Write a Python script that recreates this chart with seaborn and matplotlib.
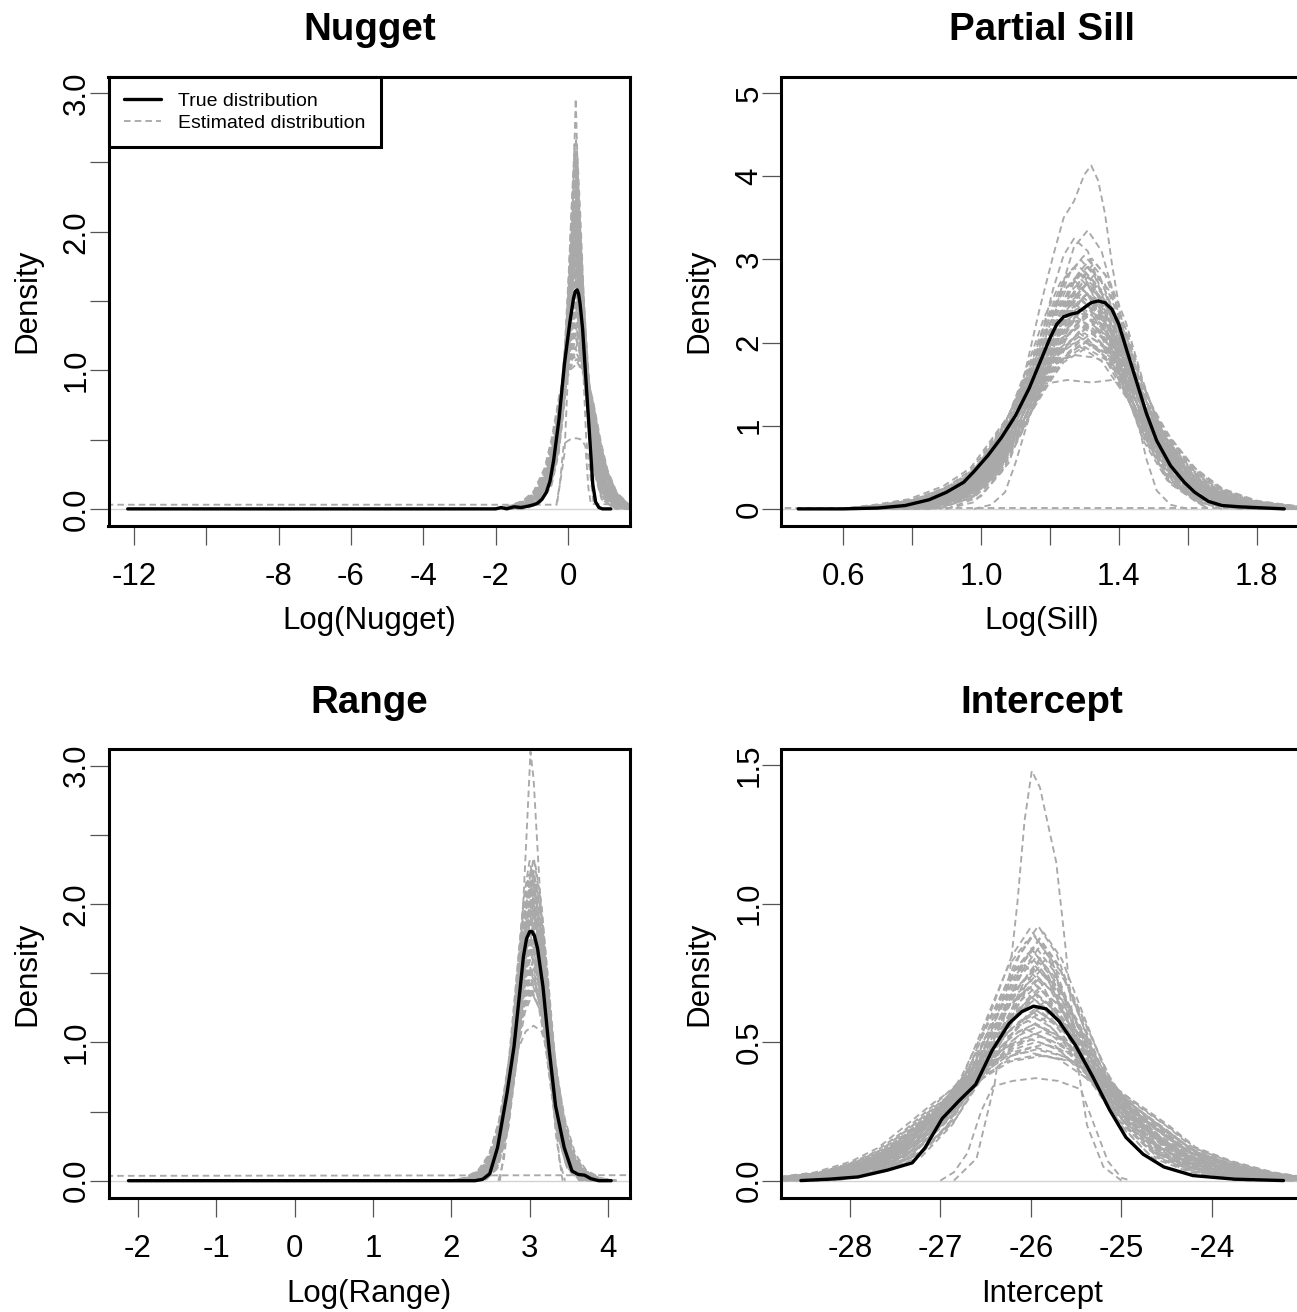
import numpy as np
import pandas as pd
import matplotlib
matplotlib.use("Agg")
import matplotlib.pyplot as plt
from matplotlib.lines import Line2D
import seaborn as sns

sns.set_style("white")
plt.rcParams["font.family"] = ["Liberation Sans", "DejaVu Sans"]
plt.rcParams["text.color"] = "black"
plt.rcParams["axes.labelcolor"] = "black"

GREY = "#A9A9A9"
DASH = (0, (3.5, 2.2))
GREY_LW = 1.35

# ---------------- Nugget ----------------
nugget_true_x = [-12.17, -2.0, -1.85, -1.7, -1.5, -1.3, -1.1, -0.95, -0.85, -0.72, -0.6, -0.5, -0.4,
                 -0.25, -0.1, 0.05, 0.15, 0.20, 0.25, 0.29, 0.33, 0.40, 0.50, 0.60, 0.68, 0.76, 0.85,
                 0.95, 1.18]
nugget_true_y = [0.0, 0.0, 0.01, 0.0, 0.015, 0.01, 0.02, 0.03, 0.04, 0.07, 0.12, 0.2, 0.35,
                 0.65, 1.05, 1.35, 1.52, 1.57, 1.58, 1.55, 1.48, 1.30, 0.90, 0.50, 0.18, 0.05, 0.01,
                 0.0, 0.0]
nugget_hi_x = [-1.2, -0.8, -0.5, -0.3, -0.15, -0.05, 0.05, 0.13, 0.21, 0.29, 0.37, 0.47, 0.6, 0.75, 0.95, 1.3]
nugget_hi_y = [0.0, 0.04, 0.15, 0.38, 0.75, 1.15, 1.7, 2.25, 2.7, 2.25, 1.7, 1.15, 0.6, 0.25, 0.06, 0.0]
nugget_lo_x = [-2.0, -1.6, -1.2, -0.9, -0.6, -0.4, -0.2, 0.0, 0.22, 0.45, 0.65, 0.85, 1.05, 1.3, 1.6, 1.9]
nugget_lo_y = [0.0, 0.02, 0.06, 0.13, 0.3, 0.52, 0.82, 1.0, 1.05, 0.98, 0.78, 0.5, 0.28, 0.12, 0.04, 0.01]
nugget_mix = [0.99, 0.96, 0.93, 0.91, 0.89, 0.86, 0.84, 0.83, 0.80, 0.78, 0.77, 0.74, 0.72, 0.71, 0.69,
              0.67, 0.65, 0.64, 0.62, 0.60, 0.59, 0.57, 0.56, 0.54, 0.52, 0.51, 0.49, 0.47, 0.46, 0.44,
              0.42, 0.41, 0.39, 0.37, 0.35, 0.34, 0.32, 0.30, 0.28, 0.26, 0.25, 0.23, 0.21, 0.19, 0.17,
              0.15, 0.13, 0.11, 0.09, 0.07, 0.05, 0.03, 0.02, 0.0]
nugget_shift = [0.01, -0.03, 0.04, -0.01, 0.02, -0.05, 0.03, 0.00, -0.02, 0.05, -0.04, 0.01, 0.06, -0.03,
                0.02, -0.06, 0.00, 0.03, -0.01, 0.04, -0.05, 0.02, -0.02, 0.05, 0.01, -0.04, 0.03, -0.06,
                0.00, 0.02, -0.03, 0.06, -0.01, 0.04, -0.05, 0.01, 0.03, -0.02, 0.05, -0.04, 0.00, 0.02,
                -0.06, 0.04, -0.01, 0.03, -0.03, 0.01, 0.05, -0.02, 0.00, -0.05, 0.02, 0.04]
nugget_spike_x = [-0.3, -0.1, 0.05, 0.14, 0.21, 0.28, 0.37, 0.5, 0.7]
nugget_spike_y = [0.05, 0.4, 1.3, 2.3, 2.96, 2.3, 1.3, 0.5, 0.05]
nugget_flat_x = [-12.75, -0.32, -0.22, -0.12, 0.05, 0.22, 0.38, 0.48, 0.56, 0.63, 1.75]
nugget_flat_y = [0.03, 0.03, 0.2, 0.47, 0.5, 0.51, 0.5, 0.45, 0.15, 0.035, 0.03]

# ---------------- Partial sill ----------------
sill_true_x = [0.47, 0.6, 0.7, 0.78, 0.85, 0.9, 0.95, 0.98, 1.02, 1.06, 1.10, 1.14, 1.18, 1.20, 1.22,
               1.24, 1.26, 1.28, 1.30, 1.32, 1.34, 1.36, 1.38, 1.40, 1.42, 1.45, 1.48, 1.51, 1.55,
               1.59, 1.62, 1.66, 1.70, 1.75, 1.80, 1.88]
sill_true_y = [0.0, 0.0, 0.01, 0.04, 0.11, 0.2, 0.32, 0.45, 0.64, 0.86, 1.12, 1.45, 1.85, 2.05, 2.22,
               2.31, 2.34, 2.36, 2.42, 2.48, 2.50, 2.48, 2.40, 2.22, 1.95, 1.55, 1.15, 0.82, 0.52,
               0.32, 0.2, 0.09, 0.04, 0.025, 0.015, 0.0]
sill_hi_x = [0.85, 0.95, 1.03, 1.1, 1.16, 1.21, 1.26, 1.30, 1.34, 1.39, 1.44, 1.50, 1.57, 1.65, 1.75]
sill_hi_y = [0.0, 0.12, 0.42, 1.0, 1.7, 2.35, 2.85, 3.05, 2.85, 2.3, 1.55, 0.8, 0.3, 0.06, 0.0]
sill_lo_x = [0.62, 0.72, 0.82, 0.92, 1.0, 1.08, 1.15, 1.22, 1.30, 1.38, 1.45, 1.52, 1.6, 1.68, 1.78, 1.9, 2.0]
sill_lo_y = [0.0, 0.05, 0.12, 0.28, 0.5, 0.95, 1.35, 1.75, 1.95, 1.75, 1.35, 0.9, 0.5, 0.25, 0.1, 0.03, 0.0]
sill_mix = [1.0, 0.97, 0.95, 0.92, 0.90, 0.88, 0.87, 0.85, 0.83, 0.81, 0.79, 0.78, 0.76, 0.74, 0.73,
            0.71, 0.69, 0.68, 0.66, 0.64, 0.63, 0.61, 0.59, 0.58, 0.56, 0.54, 0.53, 0.51, 0.49, 0.48,
            0.46, 0.44, 0.42, 0.41, 0.39, 0.37, 0.35, 0.33, 0.31, 0.29, 0.27, 0.25, 0.23, 0.21, 0.19,
            0.17, 0.15, 0.12, 0.10, 0.08, 0.06, 0.04, 0.02, 0.0]
sill_shift = [0.00, 0.02, -0.01, 0.03, -0.02, 0.01, -0.03, 0.02, 0.00, -0.01, 0.03, -0.02, 0.01, 0.02,
              -0.03, 0.00, 0.01, -0.02, 0.03, -0.01, 0.02, 0.00, -0.03, 0.01, -0.02, 0.03, 0.00, -0.01,
              0.02, -0.03, 0.01, 0.03, -0.02, 0.00, 0.02, -0.01, -0.03, 0.01, 0.03, -0.02, 0.00, 0.02,
              -0.01, 0.01, -0.03, 0.03, 0.00, -0.02, 0.02, -0.01, 0.01, -0.03, 0.02, 0.00]
sill_tall_x = [0.85, 0.95, 1.05, 1.12, 1.17, 1.21, 1.24, 1.27, 1.30, 1.32, 1.34, 1.36, 1.38, 1.41,
               1.45, 1.50, 1.55, 1.65]
sill_tall_y = [0.0, 0.15, 0.7, 1.5, 2.4, 3.05, 3.5, 3.7, 4.02, 4.13, 3.95, 3.55, 2.95, 2.2, 1.4, 0.7, 0.3, 0.02]
sill_second_x = [0.9, 1.0, 1.08, 1.14, 1.19, 1.23, 1.27, 1.31, 1.35, 1.39, 1.44, 1.5, 1.58, 1.7]
sill_second_y = [0.0, 0.15, 0.55, 1.2, 1.95, 2.6, 3.15, 3.35, 3.1, 2.5, 1.6, 0.8, 0.25, 0.0]
sill_third_x = [0.88, 0.98, 1.06, 1.12, 1.17, 1.21, 1.24, 1.27, 1.31, 1.35, 1.40, 1.46, 1.54, 1.66]
sill_third_y = [0.0, 0.15, 0.6, 1.25, 2.0, 2.65, 3.05, 3.25, 3.1, 2.6, 1.85, 1.0, 0.35, 0.0]
sill_flat_a_x = [0.98, 1.03, 1.07, 1.10, 1.14, 1.18, 1.25, 1.32, 1.38, 1.42, 1.45, 1.48, 1.51, 1.55, 1.6]
sill_flat_a_y = [0.0, 0.05, 0.2, 0.55, 1.1, 1.5, 1.55, 1.52, 1.55, 1.45, 1.15, 0.6, 0.22, 0.05, 0.0]
sill_flat_b_x = [0.9, 0.98, 1.04, 1.09, 1.14, 1.2, 1.27, 1.33, 1.4, 1.45, 1.5, 1.55, 1.62, 1.7]
sill_flat_b_y = [0.0, 0.08, 0.35, 0.8, 1.35, 1.72, 1.85, 1.82, 1.7, 1.4, 0.9, 0.45, 0.1, 0.0]
sill_wide_x = [0.40, 1.95]
sill_wide_y = [0.012, 0.012]

# ---------------- Range ----------------
range_true_x = [-2.12, 2.30, 2.40, 2.49, 2.59, 2.71, 2.80, 2.88, 2.92, 2.96, 3.00, 3.03, 3.06, 3.10,
                3.14, 3.17, 3.25, 3.33, 3.44, 3.54, 3.62, 3.70, 3.78, 3.88, 4.04]
range_true_y = [0.0, 0.0, 0.01, 0.05, 0.24, 0.63, 0.97, 1.40, 1.62, 1.75, 1.80, 1.80, 1.77, 1.68,
                1.52, 1.40, 0.94, 0.54, 0.24, 0.07, 0.045, 0.04, 0.015, 0.0, 0.0]
range_hi_x = [2.4, 2.55, 2.68, 2.78, 2.87, 2.95, 3.03, 3.11, 3.19, 3.28, 3.38, 3.51, 3.66]
range_hi_y = [0.0, 0.08, 0.35, 0.85, 1.5, 2.05, 2.35, 2.05, 1.5, 0.85, 0.35, 0.08, 0.0]
range_lo_x = [2.0, 2.2, 2.38, 2.52, 2.65, 2.78, 2.9, 3.03, 3.16, 3.28, 3.41, 3.54, 3.68, 3.86, 4.06]
range_lo_y = [0.0, 0.02, 0.08, 0.2, 0.45, 0.85, 1.2, 1.35, 1.2, 0.85, 0.45, 0.2, 0.08, 0.02, 0.0]
range_mix = [0.99, 0.97, 0.94, 0.92, 0.90, 0.87, 0.86, 0.84, 0.82, 0.80, 0.78, 0.77, 0.75, 0.73, 0.71,
             0.70, 0.68, 0.66, 0.65, 0.63, 0.61, 0.60, 0.58, 0.56, 0.55, 0.53, 0.51, 0.50, 0.48, 0.46,
             0.45, 0.43, 0.41, 0.39, 0.38, 0.36, 0.34, 0.32, 0.30, 0.28, 0.26, 0.24, 0.22, 0.20, 0.18,
             0.16, 0.14, 0.12, 0.10, 0.08, 0.06, 0.04, 0.02, 0.01]
range_shift = [0.02, -0.03, 0.04, -0.01, 0.01, -0.04, 0.03, 0.00, -0.02, 0.05, -0.03, 0.02, 0.04, -0.05,
               0.01, -0.01, 0.03, -0.02, 0.00, 0.04, -0.04, 0.02, -0.03, 0.05, 0.01, -0.02, 0.03, -0.05,
               0.00, 0.02, -0.01, 0.04, -0.03, 0.01, -0.04, 0.03, 0.00, -0.02, 0.05, -0.01, 0.02, -0.05,
               0.04, 0.01, -0.03, 0.00, 0.03, -0.02, 0.02, -0.04, 0.01, 0.04, -0.01, 0.00]
range_spike_x = [2.62, 2.72, 2.82, 2.90, 2.96, 3.01, 3.05, 3.10, 3.17, 3.25, 3.33, 3.42]
range_spike_y = [0.0, 0.4, 1.1, 1.8, 2.5, 3.1, 2.9, 2.4, 1.7, 0.95, 0.35, 0.0]
range_dome_x = [2.60, 2.67, 2.75, 2.85, 2.95, 3.05, 3.15, 3.25, 3.32, 3.38, 3.45]
range_dome_y = [0.0, 0.15, 0.55, 0.95, 1.08, 1.12, 1.08, 0.9, 0.5, 0.15, 0.0]
range_wide_x = [-2.4, 4.3]
range_wide_y = [0.035, 0.04]

# ---------------- Intercept ----------------
icpt_true_x = [-28.54, -28.23, -27.91, -27.58, -27.31, -27.17, -26.98, -26.80, -26.61, -26.43, -26.24,
               -26.10, -25.97, -25.83, -25.69, -25.51, -25.32, -25.13, -24.95, -24.76, -24.53, -24.21,
               -23.75, -23.21]
icpt_true_y = [0.0, 0.005, 0.013, 0.038, 0.064, 0.118, 0.224, 0.286, 0.347, 0.469, 0.568, 0.61, 0.63,
               0.62, 0.576, 0.49, 0.377, 0.255, 0.156, 0.095, 0.049, 0.018, 0.005, 0.0]
icpt_hi_x = [-28.2, -27.7, -27.3, -26.95, -26.65, -26.4, -26.15, -25.95, -25.75, -25.5, -25.25, -24.95,
             -24.6, -24.2, -23.7]
icpt_hi_y = [0.0, 0.03, 0.08, 0.2, 0.38, 0.6, 0.82, 0.92, 0.82, 0.6, 0.38, 0.2, 0.08, 0.03, 0.0]
icpt_lo_x = [-28.8, -28.3, -27.9, -27.6, -27.3, -27.0, -26.6, -26.3, -25.95, -25.6, -25.3, -24.9, -24.55,
             -24.25, -23.85, -23.4, -23.0]
icpt_lo_y = [0.01, 0.03, 0.07, 0.12, 0.2, 0.28, 0.37, 0.43, 0.45, 0.43, 0.37, 0.28, 0.2, 0.12, 0.07, 0.03, 0.01]
icpt_mix = [1.0, 0.98, 0.95, 0.93, 0.90, 0.88, 0.86, 0.84, 0.82, 0.80, 0.79, 0.77, 0.75, 0.73, 0.72,
            0.70, 0.68, 0.66, 0.65, 0.63, 0.61, 0.60, 0.58, 0.56, 0.54, 0.53, 0.51, 0.49, 0.47, 0.46,
            0.44, 0.42, 0.40, 0.38, 0.37, 0.35, 0.33, 0.31, 0.29, 0.27, 0.25, 0.23, 0.21, 0.19, 0.17,
            0.15, 0.13, 0.11, 0.09, 0.07, 0.05, 0.03, 0.01, 0.0]
icpt_shift = [0.03, -0.06, 0.09, -0.02, 0.05, -0.10, 0.07, 0.00, -0.04, 0.11, -0.08, 0.02, 0.12, -0.05,
              0.04, -0.12, 0.01, 0.06, -0.03, 0.09, -0.09, 0.03, -0.05, 0.10, 0.02, -0.07, 0.06, -0.11,
              0.00, 0.04, -0.02, 0.11, -0.06, 0.08, -0.10, 0.01, 0.05, -0.04, 0.10, -0.08, 0.00, 0.03,
              -0.12, 0.07, -0.01, 0.05, -0.06, 0.02, 0.09, -0.03, 0.01, -0.09, 0.04, 0.07]
icpt_spike_x = [-26.85, -26.6, -26.4, -26.25, -26.15, -26.07, -25.99, -25.9, -25.8, -25.72, -25.62,
                -25.5, -25.38, -25.2, -25.0]
icpt_spike_y = [0.0, 0.08, 0.35, 0.7, 1.0, 1.3, 1.48, 1.42, 1.27, 1.15, 0.85, 0.45, 0.2, 0.05, 0.0]
icpt_flat_x = [-27.0, -26.85, -26.7, -26.55, -26.42, -26.2, -25.95, -25.7, -25.45, -25.3, -25.15, -25.0, -24.9]
icpt_flat_y = [0.0, 0.03, 0.1, 0.25, 0.34, 0.36, 0.37, 0.36, 0.33, 0.2, 0.07, 0.01, 0.0]

# ---------------- axes ----------------
titles = ["Nugget", "Partial Sill", "Range", "Intercept"]
xlabels = ["Log(Nugget)", "Log(Sill)", "Log(Range)", "Intercept"]
xticks = [[-12, -10, -8, -6, -4, -2, 0], [0.6, 0.8, 1.0, 1.2, 1.4, 1.6, 1.8],
          [-2, -1, 0, 1, 2, 3, 4], [-28, -27, -26, -25, -24]]
xticklabels = [["-12", "", "-8", "-6", "-4", "-2", "0"], ["0.6", "", "1.0", "", "1.4", "", "1.8"],
               ["-2", "-1", "0", "1", "2", "3", "4"], ["-28", "-27", "-26", "-25", "-24"]]
yticks = [[0, 0.5, 1, 1.5, 2, 2.5, 3], [0, 1, 2, 3, 4, 5], [0, 0.5, 1, 1.5, 2, 2.5, 3], [0, 0.5, 1, 1.5]]
yticklabels = [["0.0", "", "1.0", "", "2.0", "", "3.0"], ["0", "1", "2", "3", "4", "5"],
               ["0.0", "", "1.0", "", "2.0", "", "3.0"], ["0.0", "0.5", "1.0", "1.5"]]
xlims = [(-12.70, 1.71), (0.42, 1.933), (-2.375, 4.28), (-28.76, -23.0)]
ylims = [(-0.12, 3.12), (-0.2, 5.2), (-0.125, 3.12), (-0.063, 1.559)]


def estimated_curves(hi_x, hi_y, lo_x, lo_y, mix, shift, extras):
    lo_x, lo_y, hi_x, hi_y = map(np.asarray, (lo_x, lo_y, hi_x, hi_y))
    x0, x1 = min(lo_x[0], hi_x[0]), max(lo_x[-1], hi_x[-1])
    frames = []
    for i, (w, s) in enumerate(zip(mix, shift)):
        gx = np.linspace(x0 + s, x1 + s, 400)
        gy = (w * np.interp(gx - s, hi_x, hi_y, left=0, right=0)
              + (1 - w) * np.interp(gx - s, lo_x, lo_y, left=0, right=0))
        frames.append(pd.DataFrame({"x": gx, "density": gy, "curve": i}))
    for j, (ex, ey) in enumerate(extras):
        frames.append(pd.DataFrame({"x": ex, "density": ey, "curve": len(mix) + j}))
    return pd.concat(frames, ignore_index=True)


grey_sets = [
    estimated_curves(nugget_hi_x, nugget_hi_y, nugget_lo_x, nugget_lo_y, nugget_mix, nugget_shift,
                     [(nugget_spike_x, nugget_spike_y), (nugget_flat_x, nugget_flat_y)]),
    estimated_curves(sill_hi_x, sill_hi_y, sill_lo_x, sill_lo_y, sill_mix, sill_shift,
                     [(sill_tall_x, sill_tall_y), (sill_second_x, sill_second_y),
                      (sill_third_x, sill_third_y), (sill_flat_a_x, sill_flat_a_y),
                      (sill_flat_b_x, sill_flat_b_y), (sill_wide_x, sill_wide_y)]),
    estimated_curves(range_hi_x, range_hi_y, range_lo_x, range_lo_y, range_mix, range_shift,
                     [(range_spike_x, range_spike_y), (range_dome_x, range_dome_y),
                      (range_wide_x, range_wide_y)]),
    estimated_curves(icpt_hi_x, icpt_hi_y, icpt_lo_x, icpt_lo_y, icpt_mix, icpt_shift,
                     [(icpt_spike_x, icpt_spike_y), (icpt_flat_x, icpt_flat_y)]),
]
true_sets = [(nugget_true_x, nugget_true_y), (sill_true_x, sill_true_y),
             (range_true_x, range_true_y), (icpt_true_x, icpt_true_y)]

W, H = 1297, 1312
fig = plt.figure(figsize=(W / 100, H / 100), dpi=100)
box_w, box_h = 521.5, 449
lefts = [108.5, 781, 108.5, 781]
bottoms = [525.5, 525.5, 1198, 1198]

for k in range(4):
    ax = fig.add_axes([lefts[k] / W, 1 - bottoms[k] / H, box_w / W, box_h / H])
    ax.axhline(0, color="#D3D3D3", lw=1.0, zorder=1)
    sns.lineplot(data=grey_sets[k], x="x", y="density", units="curve", estimator=None, sort=False,
                 color=GREY, linewidth=GREY_LW, linestyle=DASH, legend=False, ax=ax, zorder=2)
    tx, ty = true_sets[k]
    sns.lineplot(x=tx, y=ty, estimator=None, sort=False, color="black", linewidth=2.4,
                 legend=False, ax=ax, zorder=3)
    ax.set_xlim(*xlims[k])
    ax.set_ylim(*ylims[k])
    ax.set_xticks(xticks[k])
    ax.set_xticklabels(xticklabels[k])
    ax.set_yticks(yticks[k])
    ax.set_yticklabels(yticklabels[k], rotation=90, va="center")
    ax.set_xlabel("")
    ax.set_ylabel("")
    ax.tick_params(axis="both", direction="out", length=14, width=0.9, color="#555555",
                   labelsize=22.5, labelcolor="black", bottom=True, left=True)
    ax.tick_params(axis="x", pad=12)
    ax.tick_params(axis="y", pad=-2)
    for sp in ax.spines.values():
        sp.set_visible(True)
        sp.set_color("black")
        sp.set_linewidth(2.2)
    ax.text(0.5, 1 + 36 / box_h, titles[k], transform=ax.transAxes, ha="center", va="baseline",
            fontsize=27.7, fontweight="bold", color="black")
    ax.text(0.5, -104 / box_h, xlabels[k], transform=ax.transAxes, ha="center", va="baseline",
            fontsize=22.5, color="black")
    ax.text(-73.5 / box_w, 0.5, "Density", transform=ax.transAxes, rotation=90,
            rotation_mode="anchor", ha="center", va="baseline", fontsize=22.5, color="black")
    if k == 0:
        handles = [Line2D([], [], color="black", lw=2.4),
                   Line2D([], [], color=GREY, lw=GREY_LW, linestyle=DASH)]
        leg = ax.legend(handles, ["True distribution", "Estimated distribution"], loc="upper left",
                        bbox_to_anchor=(0, 1), borderaxespad=0, fontsize=14, handlelength=1.9,
                        handletextpad=0.9, borderpad=0.8, labelspacing=0.22, fancybox=False,
                        framealpha=1, edgecolor="black")
        leg.get_frame().set_linewidth(2.2)
        for t in leg.get_texts():
            t.set_color("black")
        leg.set_zorder(5)

fig.savefig("out.png", dpi=100)
